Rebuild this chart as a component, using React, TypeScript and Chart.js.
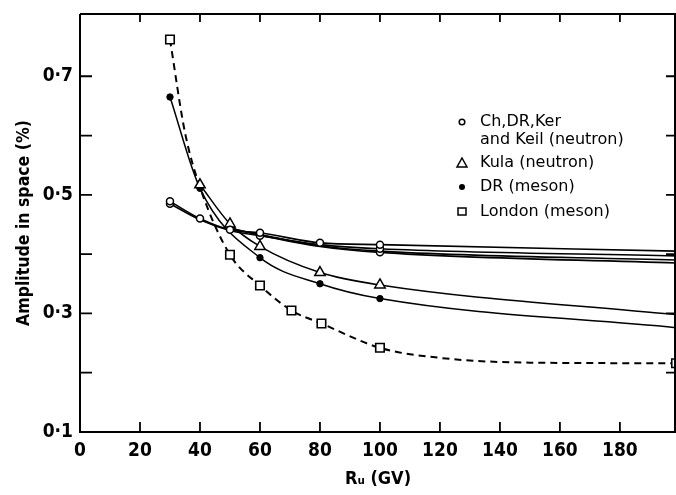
import React, { useEffect, useRef } from "react";
import { Chart, registerables } from "chart.js";

Chart.register(...registerables);

const FONT = '"DejaVu Sans Condensed", "DejaVu Sans", sans-serif';
const LEGEND_FONT = '"DejaVu Sans", sans-serif';

// Axis ticks
const xTickValues = [0, 20, 40, 60, 80, 100, 120, 140, 160, 180];
const xTopTickValues = [20, 40, 60, 80, 100, 120, 140, 160, 180];
const yTickValues = [0.2, 0.3, 0.4, 0.5, 0.6, 0.7];
const yLabelValues = [0.1, 0.3, 0.5, 0.7];
const X_MIN = 0;
const X_MAX = 198.7;
const Y_MIN = 0.1;
const Y_MAX = 0.805;

// Ch, DR, Ker and Keil (neutron) – several analyses
const chAx = [30, 40, 50, 60, 80, 100, 198.7];
const chAy = [0.489, 0.46, 0.441, 0.436, 0.419, 0.416, 0.405];
const chBx = [30, 40, 50, 60, 80, 100, 198.7];
const chBy = [0.485, 0.458, 0.44, 0.431, 0.416, 0.409, 0.397];
const chCx = [50, 60, 80, 100, 198.7];
const chCy = [0.443, 0.433, 0.414, 0.405, 0.39];
const chDx = [50, 60, 80, 100, 198.7];
const chDy = [0.444, 0.432, 0.413, 0.403, 0.385];

// Kula (neutron)
const kulaX = [40, 50, 60, 80, 100, 198.7];
const kulaY = [0.517, 0.451, 0.413, 0.369, 0.348, 0.298];

// DR (meson)
const drX = [30, 40, 60, 80, 100, 198.7];
const drY = [0.665, 0.511, 0.394, 0.35, 0.325, 0.276];

// London (meson)
const lonX = [30, 35, 40, 50, 60, 70.5, 80.5, 100, 120, 150, 198.7];
const lonY = [0.762, 0.605, 0.513, 0.399, 0.347, 0.305, 0.283, 0.242, 0.225, 0.217, 0.216];

const fmt = (v: number) => v.toFixed(1).replace(".", "·");

const pts = (xs: number[], ys: number[]) => xs.map((x, i) => ({ x, y: ys[i] }));

const framePlugin = {
  id: "frameTicks",
  afterDatasetsDraw(chart: any) {
    const { ctx, chartArea } = chart;
    const { left, right, top, bottom } = chartArea;
    const xs = chart.scales.x;
    const ys = chart.scales.y;
    ctx.save();
    ctx.strokeStyle = "#000";
    ctx.lineWidth = 2;
    ctx.beginPath();
    ctx.moveTo(left, top);
    ctx.lineTo(left, bottom);
    ctx.lineTo(right - 1, bottom);
    ctx.lineTo(right - 1, top);
    ctx.lineTo(left, top);
    ctx.stroke();
    ctx.lineWidth = 1.8;
    ctx.beginPath();
    for (const v of xTickValues) {
      if (v === 0) continue;
      const px = xs.getPixelForValue(v);
      ctx.moveTo(px, bottom);
      ctx.lineTo(px, bottom - 10);
    }
    for (const v of xTopTickValues) {
      const px = xs.getPixelForValue(v);
      ctx.moveTo(px, top);
      ctx.lineTo(px, top + 8);
    }
    for (const v of yTickValues) {
      const py = ys.getPixelForValue(v);
      ctx.moveTo(left, py);
      ctx.lineTo(left + 12, py);
      ctx.moveTo(right, py);
      ctx.lineTo(right - 10, py);
    }
    ctx.stroke();
    ctx.restore();
  },
  afterDraw(chart: any) {
    const { ctx, chartArea } = chart;
    const sx = chartArea.left + 382;
    const tx = chartArea.left + 400;
    const t = chartArea.top;
    ctx.save();
    ctx.fillStyle = "#000";
    ctx.strokeStyle = "#000";
    ctx.font = `16px ${LEGEND_FONT}`;
    ctx.textBaseline = "middle";
    ctx.textAlign = "left";
    ctx.fillText("Ch,DR,Ker", tx, t + 108);
    ctx.fillText("and Keil (neutron)", tx, t + 126);
    ctx.fillText("Kula (neutron)", tx, t + 149);
    ctx.fillText("DR (meson)", tx, t + 173);
    ctx.fillText("London (meson)", tx, t + 198);
    ctx.lineWidth = 1.5;
    // open circle
    ctx.beginPath();
    ctx.arc(sx, t + 108, 2.8, 0, Math.PI * 2);
    ctx.stroke();
    // triangle
    ctx.beginPath();
    ctx.moveTo(sx, t + 144);
    ctx.lineTo(sx + 5, t + 153);
    ctx.lineTo(sx - 5, t + 153);
    ctx.closePath();
    ctx.stroke();
    // filled circle
    ctx.beginPath();
    ctx.arc(sx, t + 173, 3, 0, Math.PI * 2);
    ctx.fill();
    // square
    ctx.strokeRect(sx - 4, t + 194, 8, 7);
    ctx.restore();
  },
};

export default function App() {
  const ref = useRef<HTMLCanvasElement>(null);

  useEffect(() => {
    document.body.style.margin = "0";
    const canvas = ref.current;
    if (!canvas) return;

    const chLine = (xs: number[], ys: number[], radii: number[]) => ({
      data: pts(xs, ys),
      borderColor: "#000",
      borderWidth: 1.6,
      pointStyle: "circle",
      pointRadius: radii,
      pointBackgroundColor: "#fff",
      pointBorderColor: "#000",
      pointBorderWidth: 1.5,
      cubicInterpolationMode: "monotone",
    });

    const chart = new Chart(canvas, {
      type: "line",
      data: {
        datasets: [
          { label: "Ch,DR,Ker and Keil (neutron)", ...chLine(chAx, chAy, [3.5, 3.5, 3.5, 3.5, 3.5, 3.5, 0]) },
          { label: "Ch,DR,Ker and Keil (neutron) b", ...chLine(chBx, chBy, [3.5, 0, 0, 3.5, 0, 3.5, 0]) },
          { label: "Ch,DR,Ker and Keil (neutron) c", ...chLine(chCx, chCy, [0, 0, 0, 0, 0]) },
          { label: "Ch,DR,Ker and Keil (neutron) d", ...chLine(chDx, chDy, [0, 0, 0, 3.5, 0]) },
          {
            label: "Kula (neutron)",
            data: pts(kulaX, kulaY),
            borderColor: "#000",
            borderWidth: 1.5,
            pointStyle: "triangle",
            pointRadius: [6, 6, 6, 6, 6, 0],
            pointBackgroundColor: "#fff",
            pointBorderColor: "#000",
            pointBorderWidth: 1.5,
            cubicInterpolationMode: "monotone",
          },
          {
            label: "DR (meson)",
            data: pts(drX, drY),
            borderColor: "#000",
            borderWidth: 1.5,
            pointStyle: "circle",
            pointRadius: [3.2, 3.2, 3.2, 3.2, 3.2, 0],
            pointBackgroundColor: "#000",
            pointBorderColor: "#000",
            pointBorderWidth: 1,
            cubicInterpolationMode: "monotone",
          },
          {
            label: "London (meson)",
            data: pts(lonX, lonY),
            borderColor: "#000",
            borderWidth: 2,
            borderDash: [7, 5],
            pointStyle: "rect",
            pointRadius: [6, 0, 0, 6, 6, 6, 6, 6, 0, 0, 6],
            pointBackgroundColor: "#fff",
            pointBorderColor: "#000",
            pointBorderWidth: 1.6,
            cubicInterpolationMode: "monotone",
          },
        ],
      },
      options: {
        animation: false,
        responsive: false,
        layout: { autoPadding: false, padding: { top: 14, right: 0, left: 0, bottom: 0 } },
        plugins: { legend: { display: false }, tooltip: { enabled: false } },
        scales: {
          x: {
            type: "linear",
            min: X_MIN,
            max: X_MAX,
            grid: { display: false, drawTicks: false },
            border: { display: false },
            afterBuildTicks: (s: any) => {
              s.ticks = xTickValues.map((v) => ({ value: v }));
            },
            afterFit: (s: any) => {
              s.height = 63;
              s.paddingLeft = 0;
              s.paddingRight = 0;
            },
            ticks: {
              color: "#000",
              padding: 8,
              maxRotation: 0,
              font: { family: FONT, size: 19, weight: "bold" },
              callback: (v: any) => String(v),
            },
            title: {
              display: true,
              text: "Rᵤ (GV)",
              color: "#000",
              font: { family: FONT, size: 18, weight: "bold" },
              padding: { top: 0, bottom: 5 },
            },
          },
          y: {
            type: "linear",
            min: Y_MIN,
            max: Y_MAX,
            grid: { display: false, drawTicks: false },
            border: { display: false },
            afterBuildTicks: (s: any) => {
              s.ticks = yLabelValues.map((v) => ({ value: v }));
            },
            afterFit: (s: any) => {
              s.width = 80;
              s.paddingTop = 0;
              s.paddingBottom = 0;
            },
            ticks: {
              color: "#000",
              padding: 7,
              font: { family: FONT, size: 19, weight: "bold" },
              callback: (v: any) => fmt(Number(v)),
            },
            title: {
              display: true,
              text: "Amplitude in space (%)",
              color: "#000",
              font: { family: FONT, size: 17.5, weight: "bold" },
              padding: { top: 14, bottom: 0 },
            },
          },
        },
      },
      plugins: [framePlugin],
    } as any);

    return () => chart.destroy();
  }, []);

  return (
    <div style={{ width: 676, height: 495, background: "#fff" }}>
      <canvas ref={ref} width={676} height={495} style={{ display: "block" }} />
    </div>
  );
}
